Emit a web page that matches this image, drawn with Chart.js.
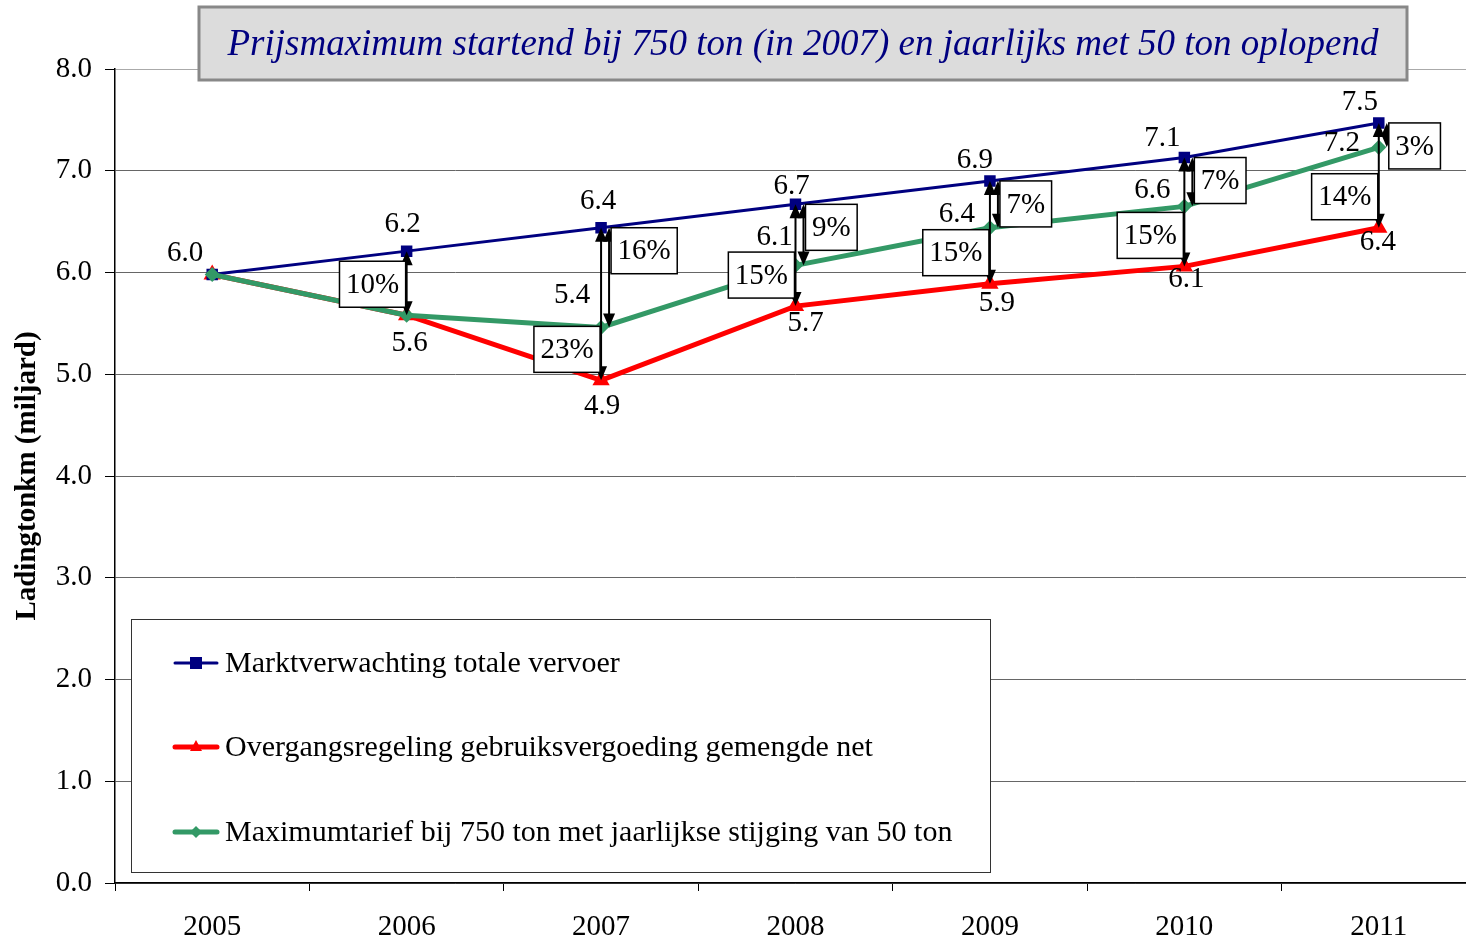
<!DOCTYPE html>
<html>
<head>
<meta charset="utf-8">
<script src="https://cdn.jsdelivr.net/npm/chart.js@4.4.0/dist/chart.umd.min.js"></script>
<style>
html, body { margin: 0; padding: 0; background: #fff; overflow: hidden; }
#wrap { width: 1486px; height: 941px; position: relative; }
</style>
</head>
<body>
<div id="wrap"><canvas id="chart"></canvas></div>
<script>
// data
var years = ["2005", "2006", "2007", "2008", "2009", "2010", "2011"];
var marktVerwachting = [5.98, 6.21, 6.44, 6.67, 6.90, 7.13, 7.47];
var overgangsregeling = [5.98, 5.58, 4.94, 5.67, 5.89, 6.06, 6.44];
var maximumTarief = [5.98, 5.58, 5.46, 6.07, 6.44, 6.65, 7.23];
var marktLabels = ["6.0", "6.2", "6.4", "6.7", "6.9", "7.1", "7.5"];
var overgangLabels = ["", "5.6", "4.9", "5.7", "5.9", "6.1", "6.4"];
var maximumLabels = ["", "", "5.4", "6.1", "6.4", "6.6", "7.2"];
var pctOvergang = ["", "10%", "23%", "15%", "15%", "15%", "14%"];
var pctMaximum = ["", "", "16%", "9%", "7%", "7%", "3%"];
var seriesNames = [
    "Marktverwachting totale vervoer",
    "Overgangsregeling gebruiksvergoeding gemengde net",
    "Maximumtarief bij 750 ton met jaarlijkse stijging van 50 ton"
];
var titleText = "Prijsmaximum startend bij 750 ton (in 2007) en jaarlijks met 50 ton oplopend";

var FONT = "'Liberation Serif', 'Times New Roman', serif";
var BLUE = "#000080", RED = "#ff0000", GREEN = "#339966";

// pixel nudges for the value labels (dx, dy from the point)
var blueNudge = [[-27, -21], [-4, -27], [-3, -26], [-4, -18], [-15, -21], [-22, -19], [-19, -21]];
var redNudge = [[0, 0], [3, 28], [1, 26], [10, 17], [7, 20], [2, 13], [-1, 15]];
var greenNudge = [[0, 0], [0, 0], [-29, -32], [-21, -28], [-33, -13], [-32, -16], [-37, -4]];

function drawArrow(ctx, x, yTop, yBot) {
    var hl = 14, hw = 6;
    ctx.save();
    ctx.strokeStyle = "#000";
    ctx.fillStyle = "#000";
    ctx.lineWidth = 2;
    ctx.beginPath();
    ctx.moveTo(x, yTop + hl - 2);
    ctx.lineTo(x, yBot - hl + 2);
    ctx.stroke();
    ctx.beginPath(); // head up
    ctx.moveTo(x, yTop);
    ctx.lineTo(x - hw, yTop + hl);
    ctx.lineTo(x + hw, yTop + hl);
    ctx.closePath();
    ctx.fill();
    ctx.beginPath(); // head down
    ctx.moveTo(x, yBot);
    ctx.lineTo(x - hw, yBot - hl);
    ctx.lineTo(x + hw, yBot - hl);
    ctx.closePath();
    ctx.fill();
    ctx.restore();
}

function drawBox(ctx, text, x, y, alignRight) {
    ctx.save();
    ctx.font = "29px " + FONT;
    var w = ctx.measureText(text).width + 13, h = 46;
    var bx = alignRight ? x - w : x;
    ctx.fillStyle = "#fff";
    ctx.fillRect(bx, y, w, h);
    ctx.strokeStyle = "#000";
    ctx.lineWidth = 1.5;
    ctx.strokeRect(bx, y, w, h);
    ctx.fillStyle = "#000";
    ctx.textAlign = "center";
    ctx.textBaseline = "middle";
    ctx.fillText(text, bx + w / 2, y + h / 2 + 1);
    ctx.restore();
}

var annotations = {
    id: "annotations",
    afterDatasetsDraw: function (chart) {
        var ctx = chart.ctx;
        var xs = chart.scales.x, ys = chart.scales.y;
        // arrows with percentage boxes
        for (var i = 1; i < years.length; i++) {
            var cx = xs.getPixelForValue(i);
            var yb = ys.getPixelForValue(marktVerwachting[i]);
            var yr = ys.getPixelForValue(overgangsregeling[i]);
            var yg = ys.getPixelForValue(maximumTarief[i]);
            drawArrow(ctx, cx, yb, yr);
            if (pctOvergang[i]) drawBox(ctx, pctOvergang[i], cx - 1, yr - 8 - 46, true);
            if (pctMaximum[i]) {
                drawArrow(ctx, cx + 8, yb, yg);
                drawBox(ctx, pctMaximum[i], cx + 10, yb, false);
            }
        }
        // value labels
        ctx.save();
        ctx.font = "29px " + FONT;
        ctx.fillStyle = "#000";
        ctx.textAlign = "center";
        ctx.textBaseline = "middle";
        for (var j = 0; j < years.length; j++) {
            var px = xs.getPixelForValue(j);
            if (marktLabels[j]) ctx.fillText(marktLabels[j], px + blueNudge[j][0], ys.getPixelForValue(marktVerwachting[j]) + blueNudge[j][1]);
            if (overgangLabels[j]) ctx.fillText(overgangLabels[j], px + redNudge[j][0], ys.getPixelForValue(overgangsregeling[j]) + redNudge[j][1]);
            if (maximumLabels[j]) ctx.fillText(maximumLabels[j], px + greenNudge[j][0], ys.getPixelForValue(maximumTarief[j]) + greenNudge[j][1]);
        }
        ctx.restore();
    },
    afterDraw: function (chart) {
        var ctx = chart.ctx;
        // title box
        ctx.save();
        ctx.fillStyle = "#dcdcdc";
        ctx.fillRect(198, 6, 1210, 75);
        ctx.strokeStyle = "#888";
        ctx.lineWidth = 3;
        ctx.strokeRect(199, 7, 1208, 73);
        ctx.font = "italic 37px " + FONT;
        ctx.fillStyle = BLUE;
        ctx.textAlign = "center";
        ctx.textBaseline = "middle";
        ctx.fillText(titleText, 803, 45);
        ctx.restore();

        // legend box
        ctx.save();
        ctx.fillStyle = "#fff";
        ctx.fillRect(131, 619, 859, 253);
        ctx.strokeStyle = "#333";
        ctx.lineWidth = 1;
        ctx.strokeRect(131.5, 619.5, 859, 253);
        var rows = [663, 747, 832];
        chart.data.datasets.forEach(function (ds, k) {
            var y = rows[k];
            ctx.strokeStyle = ds.borderColor;
            ctx.lineWidth = ds.borderWidth;
            ctx.lineCap = "round";
            ctx.beginPath();
            ctx.moveTo(175, y);
            ctx.lineTo(217, y);
            ctx.stroke();
            ctx.fillStyle = ds.borderColor;
            ctx.beginPath();
            if (k === 0) {
                ctx.rect(190, y - 6, 12, 12);
            } else if (k === 1) {
                ctx.moveTo(196, y - 7);
                ctx.lineTo(202, y + 4);
                ctx.lineTo(190, y + 4);
                ctx.closePath();
            } else {
                ctx.moveTo(196, y - 6);
                ctx.lineTo(202, y);
                ctx.lineTo(196, y + 6);
                ctx.lineTo(190, y);
                ctx.closePath();
            }
            ctx.fill();
            ctx.fillStyle = "#000";
            ctx.font = "30px " + FONT;
            ctx.textAlign = "left";
            ctx.textBaseline = "middle";
            ctx.fillText(seriesNames[k], 225, y + 1);
        });
        ctx.restore();
    }
};

var ctx = document.getElementById("chart").getContext("2d");
var chart = new Chart(ctx, {
    type: "line",
    data: {
        labels: years,
        datasets: [{
            label: seriesNames[0],
            data: marktVerwachting,
            borderColor: BLUE,
            backgroundColor: BLUE,
            borderWidth: 3,
            pointStyle: "rect",
            pointRadius: 6,
            order: 1
        }, {
            label: seriesNames[1],
            data: overgangsregeling,
            borderColor: RED,
            backgroundColor: RED,
            borderWidth: 5,
            pointStyle: "triangle",
            pointRadius: 5,
            order: 2
        }, {
            label: seriesNames[2],
            data: maximumTarief,
            borderColor: GREEN,
            backgroundColor: GREEN,
            borderWidth: 5,
            pointStyle: "rectRot",
            pointRadius: 4,
            order: 0
        }]
    },
    options: {
        responsive: true,
        maintainAspectRatio: false,
        animation: false,
        layout: { padding: { top: 69, right: 2, left: 0, bottom: 0 } },
        plugins: {
            legend: { display: false },
            tooltip: { enabled: false }
        },
        scales: {
            x: {
                offset: true,
                grid: { display: true, drawOnChartArea: false, drawTicks: true, tickLength: 8, color: "#000", offset: true },
                border: { color: "#000", width: 1.5 },
                ticks: { color: "#000", font: { family: FONT, size: 29 }, padding: 19 },
                afterFit: function (s) { s.height = 58; }
            },
            y: {
                min: 0,
                max: 8,
                ticks: {
                    stepSize: 1,
                    color: "#000",
                    font: { family: FONT, size: 29 },
                    padding: 13,
                    callback: function (v) { return v.toFixed(1); }
                },
                grid: {
                    color: function (c) { return c.tick && c.tick.value === 8 ? "#aaa" : "#666"; },
                    lineWidth: 1,
                    tickLength: 10,
                    tickColor: "#000"
                },
                border: { color: "#000", width: 1.5 },
                title: {
                    display: true,
                    text: "Ladingtonkm (miljard)",
                    color: "#000",
                    font: { family: FONT, size: 29, weight: "bold" },
                    padding: { top: 10, bottom: 0 }
                },
                afterFit: function (s) { s.width = 115; }
            }
        }
    },
    plugins: [annotations]
});
</script>
</body>
</html>
